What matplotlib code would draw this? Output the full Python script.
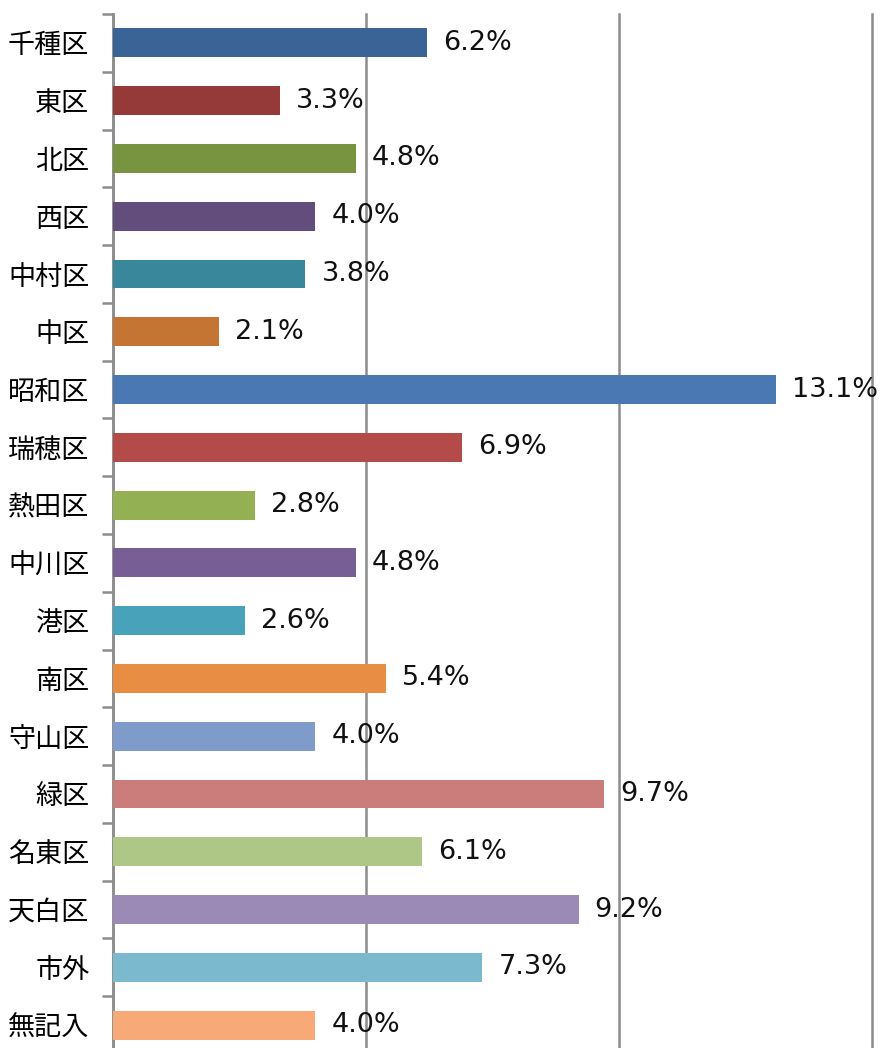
import matplotlib.pyplot as plt
import numpy as np

plt.rcParams['font.family'] = ['Noto Sans CJK JP', 'DejaVu Sans']

# data (percent)
wards = ['千種区', '東区', '北区', '西区', '中村区', '中区', '昭和区', '瑞穂区', '熱田区',
         '中川区', '港区', '南区', '守山区', '緑区', '名東区', '天白区', '市外', '無記入']
values = [6.2, 3.3, 4.8, 4.0, 3.8, 2.1, 13.1, 6.9, 2.8,
          4.8, 2.6, 5.4, 4.0, 9.7, 6.1, 9.2, 7.3, 4.0]
colors = ['#3A6496', '#953A39', '#789441', '#624D7C', '#39879A', '#C47534',
          '#4A78B2', '#B34B49', '#93B053', '#775E95', '#47A2BA', '#E88E42',
          '#7F9BC9', '#CB7D7B', '#AEC686', '#9C8AB6', '#7BB9CF', '#F7A978']

fig = plt.figure(figsize=(8.83, 10.48), dpi=100)
ax = fig.add_axes([113 / 883, -6 / 1048, 759 / 883, 1040 / 1048])

y = np.arange(len(wards))
ax.barh(y, values, height=0.5, color=colors, zorder=3)
for yi, v in zip(y, values):
    ax.text(v + 0.32, yi, f'{v:.1f}%', va='center', ha='left', fontsize=19.5,
            family=['DejaVu Sans'], color='#111111', zorder=4)

ax.set_xlim(0, 15)
ax.set_ylim(len(wards) - 0.5, -0.5)
ax.set_xticks([0, 5, 10, 15])
ax.tick_params(axis='x', length=0, labelbottom=False)
ax.grid(axis='x', color='#8C8C8C', linewidth=1.8, zorder=0)
for gl in ax.get_xgridlines():
    gl.set_clip_on(False)

ax.set_yticks(y)
ax.set_yticklabels(wards, fontsize=19.5)
ax.set_yticks(np.arange(len(wards) + 1) - 0.5, minor=True)
ax.tick_params(axis='y', which='major', length=0, pad=17)
ax.tick_params(axis='y', which='minor', length=8, width=1.8, color='#8C8C8C')

for side in ['top', 'right', 'bottom']:
    ax.spines[side].set_visible(False)
ax.spines['left'].set_color('#8C8C8C')
ax.spines['left'].set_linewidth(1.8)

fig.savefig('out.png', dpi=100)
